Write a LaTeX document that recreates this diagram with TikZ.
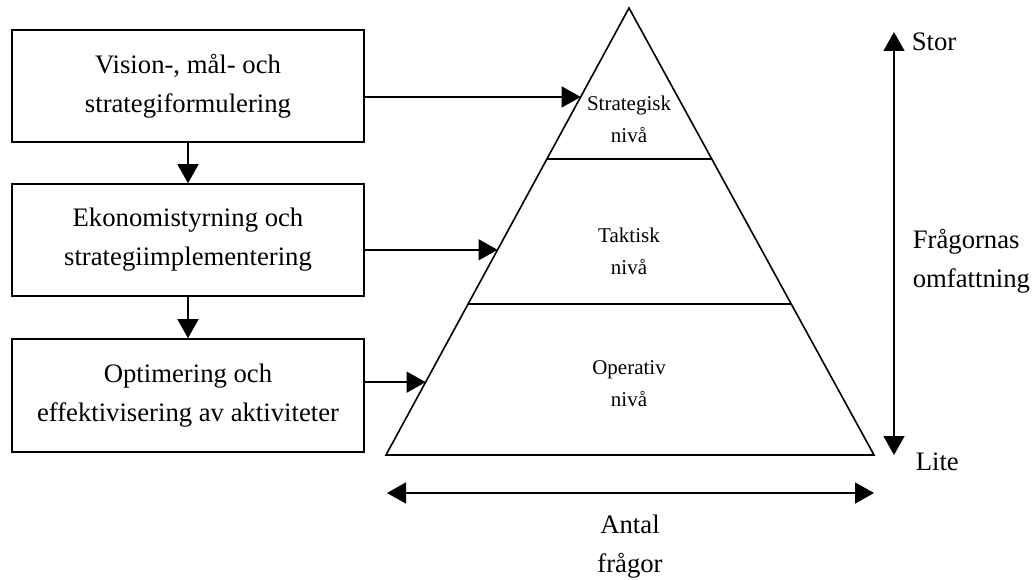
\documentclass[tikz,border=0pt]{standalone}
\usepackage{fontspec}
\setmainfont{Liberation Serif}
\usetikzlibrary{arrows.meta,calc}
\begin{document}
\begin{tikzpicture}[x=1pt,y=-1pt,
  line width=1.6pt,
  arr/.style={-{Triangle[width=21pt,length=19pt]}},
  darr/.style={{Triangle[width=21pt,length=19pt]}-{Triangle[width=21pt,length=19pt]}},
  stepbox/.style={draw,rectangle,minimum width=352pt,align=center,inner sep=0pt,
    font=\fontsize{26.7}{39}\selectfont},
  lvl/.style={align=center,font=\fontsize{21}{32}\selectfont},
  big/.style={align=center,font=\fontsize{26.7}{39}\selectfont,inner sep=0pt}]
\useasboundingbox (0,0) rectangle (1033,580);

% process boxes on the left
\node[stepbox,minimum height=112pt] (b1) at (188,86) {Vision-, mål- och\\strategiformulering};
\node[stepbox,minimum height=112pt] (b2) at (188,240) {Ekonomistyrning och\\strategiimplementering};
\node[stepbox,minimum height=113pt] (b3) at (188,395.5) {Optimering och\\effektivisering av aktiviteter};
\draw[arr] (b1) -- (b2);
\draw[arr] (b2) -- (b3);

% pyramid of levels
\coordinate (apex) at (629,8);
\coordinate (bl) at (386,455);
\coordinate (br) at (874,455);
\draw[line join=miter] (apex) -- (bl) -- (br) -- cycle;
\draw ($(apex)!0.3378!(bl)$) -- ($(apex)!0.3378!(br)$);
\draw ($(apex)!0.662!(bl)$) -- ($(apex)!0.662!(br)$);
\node[lvl] (l1) at (629,119) {Strategisk\\nivå};
\node[lvl] (l2) at (629,251) {Taktisk\\nivå};
\node[lvl] (l3) at (629,383.5) {Operativ\\nivå};

% arrows from boxes to the pyramid edge
\coordinate (p1) at ($(apex)!0.199!(bl)$);
\coordinate (p2) at ($(apex)!0.541!(bl)$);
\coordinate (p3) at ($(apex)!0.837!(bl)$);
\draw[arr] (b1.east |- p1) -- (p1);
\draw[arr] (b2.east |- p2) -- (p2);
\draw[arr] (b3.east |- p3) -- (p3);

% scope axis
\coordinate (vt) at (894,32);
\coordinate (vb) at (894,455);
\draw[darr] (vb) -- (vt);
\node[big,anchor=west] (stor) at (911,42) {Stor};
\node[big,anchor=west] (lite) at (915,462) {Lite};
\node[big,anchor=west,align=left] (fo) at (912,261) {Frågornas\\omfattning};

% number axis
\coordinate (hl) at (387,493);
\coordinate (hr) at (874,493);
\draw[darr] (hl) -- (hr);
\node[big] (af) at (630,547) {Antal\\frågor};
\end{tikzpicture}
\end{document}
